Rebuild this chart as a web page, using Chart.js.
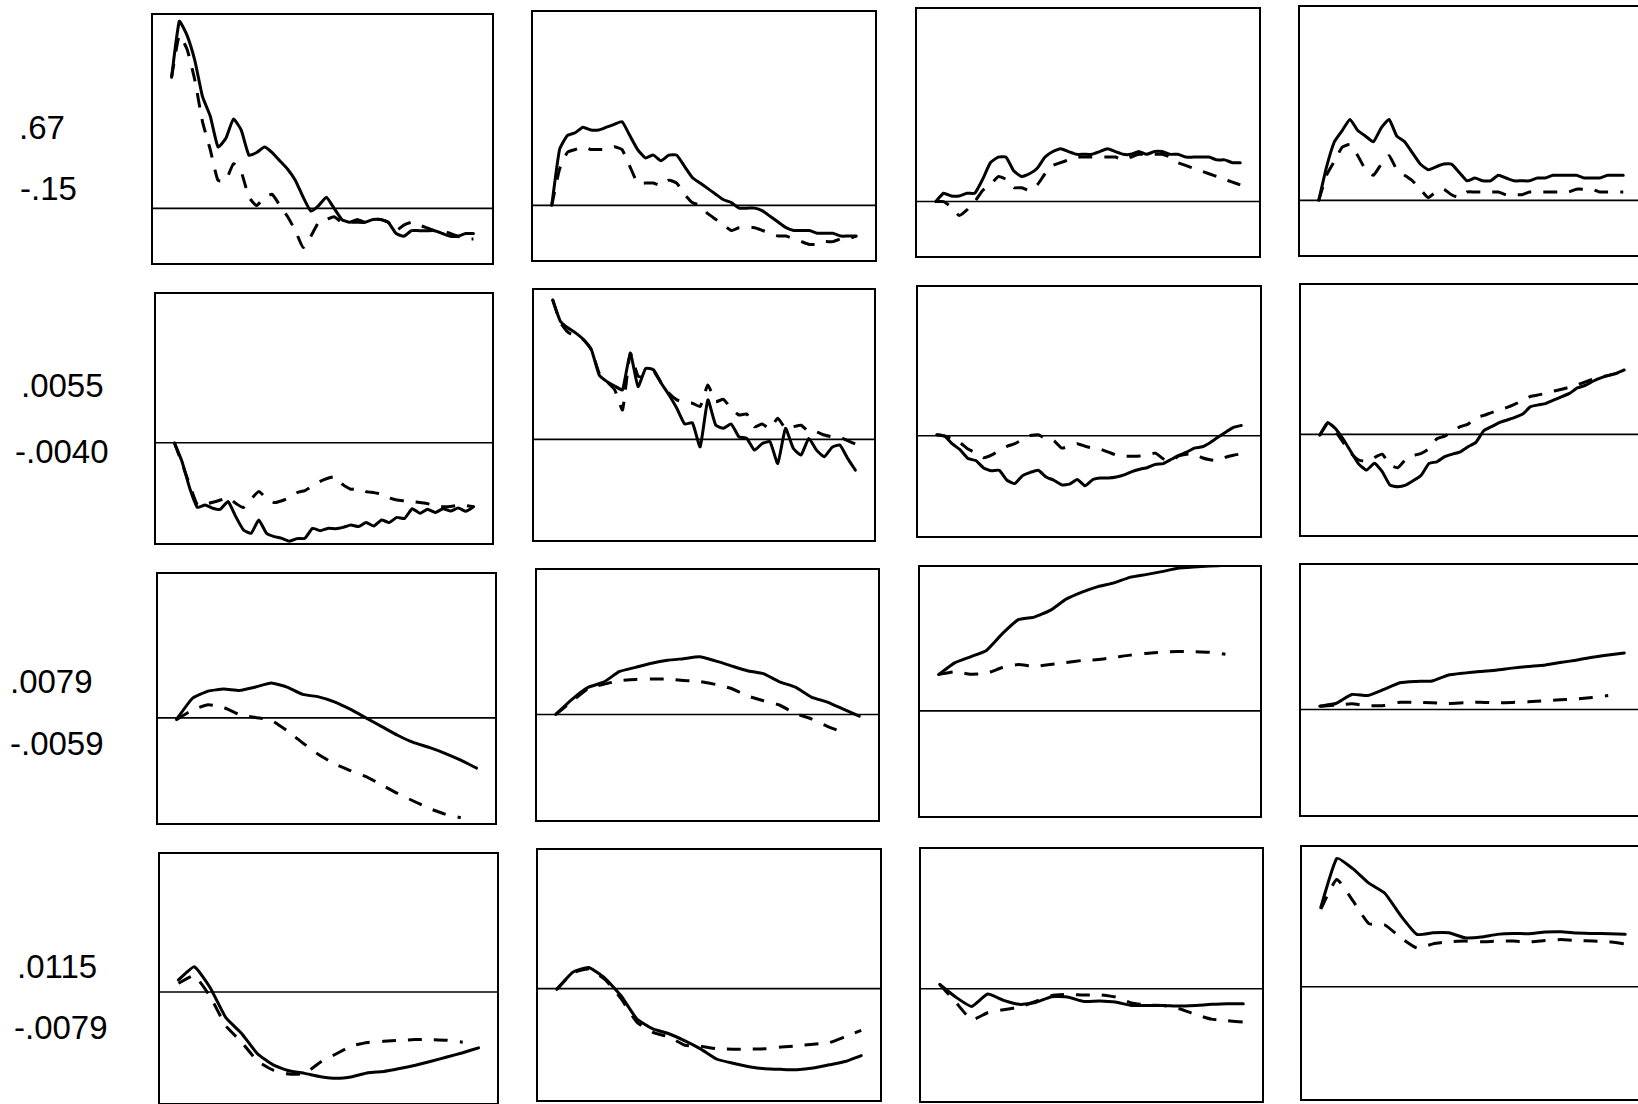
<!DOCTYPE html>
<html><head><meta charset="utf-8">
<script src="https://cdn.jsdelivr.net/npm/chart.js@4/dist/chart.umd.min.js"></script>
<style>
html,body{margin:0;padding:0;background:#fff;}
body{width:1638px;height:1104px;overflow:hidden;position:relative;font-family:"Liberation Sans",Arial,sans-serif;}
.panel{position:absolute;}
.lbl{position:absolute;font-size:33px;line-height:1;color:#000;transform:translateY(-50%);white-space:nowrap;}
</style></head><body>
<script>
// Row labels (max / min of each row)
const rowTopLabels = ['.67', '.0055', '.0079', '.0115'];
const rowBottomLabels = ['-.15', '-.0040', '-.0059', '-.0079'];
// y-axis ranges per row
const rowMax = [0.70, 0.0059, 0.0079, 0.0124];
const rowMin = [-0.203, -0.0040, -0.0058, -0.0100];

// Row 1
const r1c1Solid = [0.47,0.67,0.62,0.53,0.40,0.33,0.22,0.25,0.32,0.28,0.19,0.20,0.22,0.20,0.17,0.14,0.10,0.04,-0.01,0.01,0.04,0.00,-0.04,-0.05,-0.04,-0.05,-0.04,-0.04,-0.05,-0.09,-0.10,-0.08,-0.08,-0.08,-0.08,-0.09,-0.10,-0.10,-0.09,-0.09];
const r1c1Dashed = [0.47,0.62,0.57,0.46,0.31,0.21,0.10,0.10,0.16,0.13,0.04,0.01,0.04,0.05,0.01,-0.03,-0.08,-0.14,-0.10,-0.05,-0.04,-0.03,-0.05,-0.05,-0.05,-0.05,-0.04,-0.04,-0.05,-0.08,-0.06,-0.05,-0.06,-0.07,-0.08,-0.08,-0.09,-0.10,-0.11,-0.11];
const r1c2Solid = [0.00,0.20,0.25,0.26,0.28,0.27,0.27,0.28,0.29,0.30,0.25,0.20,0.17,0.18,0.16,0.18,0.18,0.14,0.10,0.08,0.06,0.04,0.02,0.01,-0.01,-0.01,-0.01,-0.02,-0.04,-0.06,-0.08,-0.09,-0.09,-0.09,-0.10,-0.10,-0.10,-0.11,-0.11,-0.11];
const r1c2Dashed = [0.00,0.13,0.19,0.20,0.21,0.20,0.20,0.20,0.21,0.20,0.14,0.08,0.08,0.08,0.07,0.09,0.08,0.04,0.01,0.00,-0.03,-0.05,-0.07,-0.09,-0.08,-0.08,-0.08,-0.09,-0.10,-0.11,-0.11,-0.12,-0.13,-0.14,-0.14,-0.13,-0.13,-0.12,-0.12,-0.11];
const r1c3Solid = [0.00,0.03,0.02,0.02,0.03,0.03,0.08,0.14,0.16,0.16,0.11,0.09,0.10,0.12,0.16,0.18,0.19,0.18,0.17,0.17,0.17,0.18,0.19,0.18,0.17,0.17,0.18,0.17,0.18,0.18,0.17,0.17,0.16,0.16,0.16,0.16,0.15,0.15,0.14,0.14];
const r1c3Dashed = [0.00,0.00,-0.02,-0.05,-0.03,0.00,0.04,0.06,0.09,0.08,0.05,0.05,0.04,0.06,0.10,0.13,0.14,0.15,0.16,0.16,0.16,0.16,0.16,0.16,0.15,0.16,0.17,0.17,0.17,0.17,0.16,0.14,0.13,0.12,0.11,0.10,0.09,0.08,0.07,0.06];
const r1c4Solid = [0.00,0.12,0.21,0.25,0.29,0.25,0.23,0.21,0.26,0.29,0.23,0.21,0.17,0.13,0.11,0.12,0.13,0.13,0.10,0.07,0.08,0.07,0.07,0.09,0.08,0.07,0.07,0.07,0.08,0.08,0.09,0.09,0.09,0.09,0.08,0.08,0.08,0.09,0.09,0.09];
const r1c4Dashed = [0.00,0.09,0.14,0.19,0.20,0.16,0.11,0.09,0.13,0.16,0.11,0.09,0.07,0.04,0.01,0.03,0.04,0.02,0.01,0.03,0.03,0.03,0.03,0.03,0.02,0.02,0.02,0.03,0.03,0.03,0.03,0.03,0.03,0.04,0.04,0.04,0.03,0.03,0.03,0.03];

// Row 2
const r2c1Solid = [0,-7.4e-4,-17.8e-4,-25.3e-4,-24.3e-4,-25.6e-4,-26.0e-4,-23.0e-4,-28.9e-4,-34.1e-4,-35.4e-4,-30.2e-4,-35.4e-4,-36.7e-4,-37.4e-4,-38.5e-4,-37.5e-4,-37.4e-4,-33.5e-4,-34.4e-4,-33.5e-4,-33.6e-4,-33.1e-4,-32.2e-4,-32.8e-4,-31.2e-4,-32.6e-4,-30.2e-4,-31.2e-4,-29.2e-4,-29.6e-4,-25.8e-4,-27.6e-4,-26.0e-4,-27.3e-4,-25.8e-4,-26.7e-4,-25.5e-4,-26.8e-4,-25.0e-4];
const r2c1Dashed = [0,-8.1e-4,-16.5e-4,-24.3e-4,-24.0e-4,-23.3e-4,-22.4e-4,-21.4e-4,-23.7e-4,-25.3e-4,-22.1e-4,-19.1e-4,-21.7e-4,-23.4e-4,-22.7e-4,-21.4e-4,-19.5e-4,-18.7e-4,-16.9e-4,-15.1e-4,-13.9e-4,-13.3e-4,-16.5e-4,-18.2e-4,-17.8e-4,-19.1e-4,-19.5e-4,-20.1e-4,-21.6e-4,-22.4e-4,-22.7e-4,-23.0e-4,-23.4e-4,-23.8e-4,-24.7e-4,-25.0e-4,-24.9e-4,-24.5e-4,-24.6e-4,-25.0e-4];
const r2c2Solid = [54.4e-4,46.0e-4,43.4e-4,41.4e-4,38.8e-4,34.9e-4,25.1e-4,22.5e-4,20.8e-4,19.3e-4,33.6e-4,20.6e-4,27.7e-4,27.1e-4,21.9e-4,17.3e-4,12.1e-4,6.0e-4,6.5e-4,-2.9e-4,15.4e-4,5.6e-4,4.3e-4,6.0e-4,1.0e-4,0.4e-4,-4.2e-4,-1.6e-4,-0.9e-4,-9.4e-4,4.3e-4,-3.5e-4,-6.1e-4,0.4e-4,-4.2e-4,-6.8e-4,-3.1e-4,-2.2e-4,-7.4e-4,-12.0e-4];
const r2c2Dashed = [54.4e-4,45.6e-4,41.7e-4,40.1e-4,38.8e-4,34.9e-4,25.8e-4,22.5e-4,19.3e-4,11.5e-4,33.6e-4,24.7e-4,24.2e-4,26.4e-4,21.9e-4,18.0e-4,15.4e-4,14.3e-4,14.1e-4,12.8e-4,21.2e-4,14.7e-4,15.6e-4,12.1e-4,9.5e-4,9.9e-4,4.9e-4,6.0e-4,4.2e-4,8.2e-4,4.3e-4,4.9e-4,5.5e-4,3.0e-4,2.9e-4,1.7e-4,1.0e-4,0.8e-4,-0.5e-4,-1.8e-4];
const r2c3Solid = [0.4e-4,-0.1e-4,-3.2e-4,-5.5e-4,-8.9e-4,-9.7e-4,-12.6e-4,-13.7e-4,-13.5e-4,-17.4e-4,-18.7e-4,-15.6e-4,-14.3e-4,-13.5e-4,-16.1e-4,-17.4e-4,-19.2e-4,-18.9e-4,-17.1e-4,-19.6e-4,-17.1e-4,-16.5e-4,-16.5e-4,-16.1e-4,-15.3e-4,-14.0e-4,-13.1e-4,-12.4e-4,-11.2e-4,-10.9e-4,-9.3e-4,-7.7e-4,-6.4e-4,-4.8e-4,-4.3e-4,-2.7e-4,-0.6e-4,1.4e-4,3.3e-4,4.0e-4];
const r2c3Dashed = [0.4e-4,-0.1e-4,-1.2e-4,-2.7e-4,-5.2e-4,-6.7e-4,-8.6e-4,-7.6e-4,-5.8e-4,-4.1e-4,-3.1e-4,-1.4e-4,0.1e-4,0.4e-4,-1.2e-4,-1.9e-4,-4.8e-4,-4.1e-4,-3.1e-4,-4.1e-4,-4.8e-4,-5.3e-4,-6.4e-4,-7.6e-4,-8.0e-4,-8.0e-4,-7.9e-4,-7.3e-4,-6.8e-4,-9.0e-4,-9.9e-4,-7.9e-4,-7.2e-4,-7.1e-4,-8.6e-4,-9.4e-4,-9.7e-4,-8.4e-4,-7.6e-4,-7.1e-4];
const r2c4Solid = [-0.3e-4,4.6e-4,2.3e-4,-1.8e-4,-6.8e-4,-11.6e-4,-13.9e-4,-11.3e-4,-14.5e-4,-19.8e-4,-20.4e-4,-19.8e-4,-18.0e-4,-15.9e-4,-11.3e-4,-10.7e-4,-8.7e-4,-7.7e-4,-6.8e-4,-4.8e-4,-3.1e-4,1.4e-4,3.0e-4,4.6e-4,5.6e-4,6.6e-4,7.9e-4,10.8e-4,11.5e-4,12.1e-4,13.4e-4,14.7e-4,16.0e-4,18.1e-4,19.1e-4,20.7e-4,22.0e-4,23.0e-4,23.8e-4,25.1e-4];
const r2c4Dashed = [-0.3e-4,4.0e-4,1.2e-4,-3.1e-4,-7.4e-4,-10.0e-4,-10.5e-4,-9.0e-4,-7.7e-4,-12.0e-4,-13.0e-4,-9.8e-4,-8.3e-4,-7.4e-4,-5.5e-4,-1.7e-4,-0.7e-4,1.3e-4,3.0e-4,4.0e-4,6.5e-4,7.4e-4,8.5e-4,9.5e-4,10.5e-4,11.8e-4,13.2e-4,14.8e-4,15.4e-4,16.0e-4,16.9e-4,17.6e-4,18.4e-4,19.4e-4,20.4e-4,21.5e-4,22.3e-4,23.0e-4,23.8e-4,24.9e-4];

// Row 3
const r3c1Solid = [-0.9e-4,10.5e-4,14.5e-4,15.6e-4,14.9e-4,16.7e-4,18.9e-4,16.7e-4,12.7e-4,11.4e-4,8.7e-4,4.7e-4,0.0,-4.7e-4,-9.4e-4,-13.3e-4,-16.0e-4,-19.2e-4,-22.9e-4,-27.2e-4];
const r3c1Dashed = [-0.9e-4,4.2e-4,7.1e-4,5.6e-4,1.8e-4,0.2e-4,-1.3e-4,-6.9e-4,-13.6e-4,-19.8e-4,-24.9e-4,-28.5e-4,-31.8e-4,-36.3e-4,-40.9e-4,-45.0e-4,-49.0e-4,-52.1e-4,-54.1e-4,null];
const r3c2Solid = [0,8.0e-4,14.5e-4,17.4e-4,23.2e-4,25.4e-4,27.6e-4,29.2e-4,30.1e-4,31.1e-4,28.9e-4,26.2e-4,23.6e-4,22.0e-4,17.6e-4,14.7e-4,9.4e-4,6.7e-4,2.9e-4,-0.9e-4];
const r3c2Dashed = [0,6.9e-4,13.8e-4,16.3e-4,18.2e-4,18.9e-4,19.1e-4,19.1e-4,18.3e-4,17.8e-4,16.2e-4,14.0e-4,10.0e-4,7.4e-4,5.1e-4,0.5e-4,-2.4e-4,-6.4e-4,-9.6e-4,null];
const r3c3Solid = [19.7e-4,26.0e-4,29.3e-4,32.7e-4,41.8e-4,49.4e-4,50.8e-4,54.4e-4,60.5e-4,64.3e-4,67.3e-4,69.3e-4,72.3e-4,73.8e-4,75.4e-4,77.2e-4,77.9e-4,78.4e-4,78.8e-4,79.0e-4];
const r3c3Dashed = [19.7e-4,21.2e-4,19.9e-4,20.3e-4,23.5e-4,25.1e-4,24.2e-4,25.1e-4,26.2e-4,27.3e-4,27.8e-4,28.9e-4,30.2e-4,31.1e-4,31.8e-4,32.1e-4,32.1e-4,31.8e-4,30.7e-4,null];
const r3c4Solid = [1.8e-4,3.2e-4,8.1e-4,7.5e-4,10.8e-4,14.4e-4,15.1e-4,15.4e-4,18.5e-4,19.6e-4,20.5e-4,21.2e-4,22.3e-4,23.2e-4,23.9e-4,25.3e-4,26.6e-4,28.2e-4,29.4e-4,30.5e-4];
const r3c4Dashed = [1.8e-4,2.3e-4,3.1e-4,2.0e-4,2.2e-4,3.9e-4,3.8e-4,3.6e-4,3.2e-4,3.6e-4,3.9e-4,3.6e-4,3.8e-4,4.1e-4,4.7e-4,5.2e-4,5.7e-4,6.5e-4,7.5e-4,null];

// Row 4
const r4c1Solid = [10.7e-4,22.4e-4,4.1e-4,-22.7e-4,-36.6e-4,-54.6e-4,-64.5e-4,-69.7e-4,-72.0e-4,-74.9e-4,-76.4e-4,-74.9e-4,-71.4e-4,-70.3e-4,-67.7e-4,-64.8e-4,-61.3e-4,-57.5e-4,-53.7e-4,-49.4e-4];
const r4c1Dashed = [7.8e-4,14.5e-4,-3.8e-4,-29.9e-4,-44.4e-4,-61.0e-4,-69.1e-4,-72.6e-4,-72.0e-4,-61.9e-4,-54.6e-4,-47.6e-4,-44.7e-4,-43.6e-4,-42.7e-4,-42.1e-4,-42.1e-4,-42.7e-4,-44.4e-4,null];
const r4c2Solid = [-0.6e-4,14.4e-4,18.7e-4,9.2e-4,-6.1e-4,-26.8e-4,-35.5e-4,-39.8e-4,-46.1e-4,-53.4e-4,-62.3e-4,-65.8e-4,-68.9e-4,-70.7e-4,-71.2e-4,-71.5e-4,-70.1e-4,-67.2e-4,-64.3e-4,-59.1e-4];
const r4c2Dashed = [-0.6e-4,13.8e-4,17.3e-4,8.1e-4,-8.7e-4,-29.7e-4,-38.6e-4,-42.7e-4,-49.9e-4,-50.8e-4,-53.1e-4,-53.4e-4,-53.4e-4,-53.1e-4,-51.6e-4,-50.5e-4,-49.0e-4,-47.6e-4,-42.4e-4,-36.9e-4];
const r4c3Solid = [3.8e-4,-7.3e-4,-15.5e-4,-4.7e-4,-10.2e-4,-13.7e-4,-12.0e-4,-7.0e-4,-7.3e-4,-11.1e-4,-10.8e-4,-11.7e-4,-14.6e-4,-14.6e-4,-14.6e-4,-15.2e-4,-14.6e-4,-13.7e-4,-13.1e-4,-13.1e-4];
const r4c3Dashed = [3.8e-4,-11.7e-4,-27.1e-4,-21.0e-4,-18.4e-4,-16.0e-4,-11.1e-4,-6.1e-4,-5.0e-4,-5.5e-4,-5.3e-4,-7.3e-4,-12.5e-4,-14.3e-4,-14.6e-4,-17.5e-4,-22.5e-4,-26.6e-4,-28.0e-4,-29.2e-4];
const r4c4Solid = [69.4e-4,112.2e-4,103.3e-4,90.6e-4,81.8e-4,62.0e-4,45.8e-4,47.2e-4,47.2e-4,42.8e-4,43.4e-4,45.8e-4,46.6e-4,46.3e-4,47.8e-4,48.1e-4,46.9e-4,46.6e-4,46.3e-4,45.8e-4];
const r4c4Dashed = [67.9e-4,93.9e-4,75.3e-4,55.2e-4,54.0e-4,42.8e-4,33.9e-4,37.5e-4,39.3e-4,39.9e-4,39.3e-4,39.9e-4,39.9e-4,39.3e-4,40.4e-4,41.3e-4,40.4e-4,39.9e-4,39.3e-4,37.5e-4];

const panelSeries = [
  [[r1c1Solid,r1c1Dashed],[r1c2Solid,r1c2Dashed],[r1c3Solid,r1c3Dashed],[r1c4Solid,r1c4Dashed]],
  [[r2c1Solid,r2c1Dashed],[r2c2Solid,r2c2Dashed],[r2c3Solid,r2c3Dashed],[r2c4Solid,r2c4Dashed]],
  [[r3c1Solid,r3c1Dashed],[r3c2Solid,r3c2Dashed],[r3c3Solid,r3c3Dashed],[r3c4Solid,r3c4Dashed]],
  [[r4c1Solid,r4c1Dashed],[r4c2Solid,r4c2Dashed],[r4c3Solid,r4c3Dashed],[r4c4Solid,r4c4Dashed]]
];

// layout (page pixels): [left, top, width, height]
const panelRects = [
  [[151,13,343,252],[531,10,346,252],[915,7,346,251],[1298,5,346,252]],
  [[154,292,340,253],[532,288,344,254],[916,285,346,253],[1299,283,346,254]],
  [[156,572,341,253],[535,568,345,254],[918,565,344,253],[1299,563,346,254]],
  [[158,852,341,253],[536,848,346,254],[919,847,345,256],[1300,845,346,256]]
];
const labelPos = [[[19,127],[20,188]],[[21,385],[15,451]],[[10,681],[10,743]],[[17,966],[14,1027]]];

const framePlugin = {
  id: 'frame',
  beforeDatasetsDraw(chart) {
    const {ctx, chartArea: a, scales: {y}} = chart;
    ctx.save();
    ctx.strokeStyle = '#000';
    ctx.lineWidth = 1.6;
    const y0 = y.getPixelForValue(0);
    ctx.beginPath(); ctx.moveTo(a.left, y0); ctx.lineTo(a.right, y0); ctx.stroke();
    ctx.lineWidth = 2;
    ctx.strokeRect(a.left + 1, a.top + 1, a.right - a.left - 2, a.bottom - a.top - 2);
    ctx.restore();
  }
};

function addLabel(text, pos) {
  const d = document.createElement('div');
  d.className = 'lbl';
  d.textContent = text;
  d.style.left = pos[0] + 'px';
  d.style.top = pos[1] + 'px';
  document.body.appendChild(d);
}

for (let r = 0; r < 4; r++) {
  addLabel(rowTopLabels[r], labelPos[r][0]);
  addLabel(rowBottomLabels[r], labelPos[r][1]);
  for (let c = 0; c < 4; c++) {
    const [solid, dashed] = panelSeries[r][c];
    const rect = panelRects[r][c];
    const div = document.createElement('div');
    div.className = 'panel';
    div.style.left = rect[0] + 'px'; div.style.top = rect[1] + 'px';
    div.style.width = rect[2] + 'px'; div.style.height = rect[3] + 'px';
    const cv = document.createElement('canvas');
    div.appendChild(cv);
    document.body.appendChild(div);
    const n = solid.length - 1;
    const pad = 0.06 / 0.88;
    new Chart(cv, {
      type: 'line',
      data: {
        datasets: [
          {data: solid.map((v, i) => ({x: i, y: v})), borderColor: '#000', borderWidth: 3, pointRadius: 0, tension: 0.15, fill: false, borderJoinStyle: 'round', borderCapStyle: 'round'},
          {data: dashed.map((v, i) => ({x: i, y: v})), borderColor: '#000', borderWidth: 3, borderDash: [14, 12], pointRadius: 0, tension: 0.15, fill: false}
        ]
      },
      options: {
        responsive: true, maintainAspectRatio: false, animation: false,
        layout: {padding: 0},
        plugins: {legend: {display: false}, tooltip: {enabled: false}},
        events: [],
        scales: {
          x: {type: 'linear', display: false, min: -pad * n, max: n * (1 + pad)},
          y: {type: 'linear', display: false, min: rowMin[r], max: rowMax[r]}
        }
      },
      plugins: [framePlugin]
    });
  }
}
</script>
</body></html>
